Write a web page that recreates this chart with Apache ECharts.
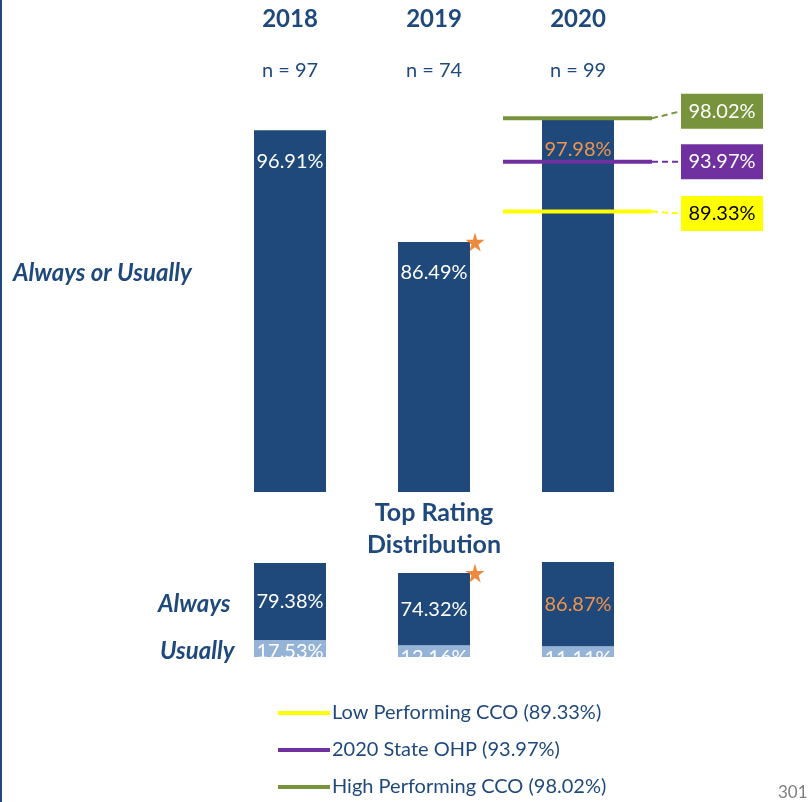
<!DOCTYPE html>
<html>
<head>
<meta charset="utf-8">
<script src="https://cdn.jsdelivr.net/npm/echarts@6/dist/echarts.min.js"></script>
<style>
  html, body { margin: 0; padding: 0; background: #fff; }
  #main { width: 811px; height: 802px; }
</style>
</head>
<body>
<div id="main"></div>
<script>
var years = ['2018', '2019', '2020'];
var sampleSizes = ['n = 97', 'n = 74', 'n = 99'];
var alwaysOrUsually = [96.91, 86.49, 97.98];
var always = [79.38, 74.32, 86.87];
var usually = [17.53, 12.16, 11.11];
var significant = [false, true, false];
var highlighted = [false, false, true];

var benchmarkNames = ['Low Performing CCO (89.33%)', '2020 State OHP (93.97%)', 'High Performing CCO (98.02%)'];
var benchmarkValues = [89.33, 93.97, 98.02];

var NAVY = '#1F497D';
var BAR = '#1F497A';
var LIGHT = '#95B3D7';
var ORANGE = '#F0944D';
var STAR = '#EA6D0C';
var FONT = 'Lato';
var benchColors = ['#FFFF00', '#7030A0', '#77933C'];
var benchText = ['#000000', '#ffffff', '#ffffff'];
var benchShift = [2, 0, -7];

var starPath = 'path://M50,0 L61,35 L98,35 L68,57 L79,91 L50,70 L21,91 L32,57 L2,35 L39,35 Z';

var chart = echarts.init(document.getElementById('main'), null, { renderer: 'canvas' });

function barLabelColor(i) {
  return highlighted[i] ? ORANGE : '#ffffff';
}

// reference lines across the 2020 band, with a boxed value on the right
function benchmarkSeries(k) {
  return {
    type: 'custom',
    name: benchmarkNames[k],
    xAxisIndex: 0,
    yAxisIndex: 0,
    z: 5,
    color: benchColors[k],
    itemStyle: { color: benchColors[k] },
    data: [[years.length - 1, benchmarkValues[k]]],
    renderItem: function (params, api) {
      var pt = api.coord([api.value(0), api.value(1)]);
      var band = api.size([1, 0])[0];
      var x0 = pt[0] - band / 2 - 3;
      var x1 = pt[0] + band / 2 + 2;
      var by = pt[1] + benchShift[k];
      return {
        type: 'group',
        children: [
          { type: 'line', shape: { x1: x0, y1: pt[1], x2: x1, y2: pt[1] },
            style: { stroke: benchColors[k], lineWidth: 4 } },
          { type: 'line', shape: { x1: x1, y1: pt[1], x2: x1 + 29, y2: by },
            style: { stroke: benchColors[k], lineWidth: 2, lineDash: [6, 4] } },
          { type: 'rect', shape: { x: x1 + 29, y: by - 17.5, width: 82, height: 35 },
            style: { fill: benchColors[k] } },
          { type: 'text', style: { text: api.value(1).toFixed(2) + '%', x: x1 + 29 + 41, y: by,
            align: 'center', verticalAlign: 'middle', fill: benchText[k],
            fontSize: 20, fontFamily: FONT } }
        ]
      };
    }
  };
}

var topBars = alwaysOrUsually.map(function (v, i) {
  return { value: v, label: { color: barLabelColor(i) } };
});
var alwaysBars = always.map(function (v, i) {
  return { value: v, label: { color: barLabelColor(i) } };
});
var stackTotals = always.map(function (v, i) { return +(v + usually[i]).toFixed(2); });

var topStars = [], bottomStars = [];
significant.forEach(function (s, i) {
  if (s) {
    topStars.push([i, alwaysOrUsually[i]]);
    bottomStars.push([i, stackTotals[i]]);
  }
});

var option = {
  animation: false,
  textStyle: { fontFamily: FONT },
  grid: [
    { left: 218, width: 432, top: 97, height: 395 },
    { left: 218, width: 432, top: 560, height: 97 }
  ],
  xAxis: [
    { gridIndex: 0, type: 'category', data: years, position: 'top',
      axisLine: { show: false }, axisTick: { show: false },
      axisLabel: { margin: 16, color: NAVY, fontSize: 20, fontFamily: FONT,
        formatter: function (v, i) { return sampleSizes[i]; } } },
    { gridIndex: 1, type: 'category', data: years, show: false },
    { gridIndex: 0, type: 'category', data: years, position: 'top', offset: 50,
      axisLine: { show: false }, axisTick: { show: false },
      axisLabel: { margin: 16, color: NAVY, fontSize: 24, fontWeight: 'bold', fontFamily: FONT } }
  ],
  yAxis: [
    { gridIndex: 0, type: 'value', min: 63.2, max: 100, show: false },
    { gridIndex: 1, type: 'value', min: 0, max: 100, show: false }
  ],
  legend: {
    orient: 'vertical',
    left: 278,
    top: 703,
    height: 120,
    padding: 0,
    icon: 'rect',
    itemWidth: 52,
    itemHeight: 4,
    itemGap: 17,
    data: benchmarkNames,
    selectedMode: false,
    textStyle: { color: NAVY, fontSize: 20, fontFamily: FONT, lineHeight: 20, padding: [0, 0, 0, -3] }
  },
  series: [
    { type: 'bar', name: 'Always or Usually', xAxisIndex: 0, yAxisIndex: 0,
      barWidth: 72, itemStyle: { color: BAR }, data: topBars,
      label: { show: true, position: 'insideTop', distance: 21, fontSize: 20, fontFamily: FONT,
        formatter: function (p) { return p.value.toFixed(2) + '%'; } } },
    { type: 'bar', name: 'Usually', stack: 'dist', xAxisIndex: 1, yAxisIndex: 1,
      barWidth: 72, itemStyle: { color: LIGHT }, data: usually,
      label: { show: true, position: 'insideTop', distance: 2, color: '#ffffff', fontSize: 20, fontFamily: FONT,
        formatter: function (p) { return p.value.toFixed(2) + '%'; } } },
    { type: 'bar', name: 'Always', stack: 'dist', xAxisIndex: 1, yAxisIndex: 1,
      barWidth: 72, itemStyle: { color: BAR }, data: alwaysBars,
      label: { show: true, position: 'inside', fontSize: 20, fontFamily: FONT,
        formatter: function (p) { return p.value.toFixed(2) + '%'; } } },
    benchmarkSeries(0),
    benchmarkSeries(1),
    benchmarkSeries(2),
    { type: 'scatter', name: 'sig-top', xAxisIndex: 0, yAxisIndex: 0, z: 6,
      symbol: starPath, symbolSize: 19, symbolOffset: [41, 0],
      itemStyle: { color: STAR }, data: topStars },
    { type: 'scatter', name: 'sig-bottom', xAxisIndex: 1, yAxisIndex: 1, z: 6,
      symbol: starPath, symbolSize: 19, symbolOffset: [41, 0],
      itemStyle: { color: STAR }, data: bottomStars }
  ],
  graphic: [
    { type: 'rect', left: 0, top: 0, shape: { width: 2, height: 802 }, style: { fill: NAVY } },
    { type: 'rect', z: 100, left: 240, top: 657.5, shape: { width: 420, height: 24 }, style: { fill: '#ffffff' } },
    { type: 'text', left: 13, top: 261, style: { text: 'Always or Usually', fill: NAVY,
      font: 'italic bold 24px Lato' } },
    { type: 'text', x: 434, y: 497, z: 101, style: { text: 'Top Rating\nDistribution', fill: NAVY,
      font: 'bold 25px Lato', align: 'center', lineHeight: 32 } },
    { type: 'text', left: 158, top: 592, style: { text: 'Always', fill: NAVY, font: 'italic bold 24px Lato' } },
    { type: 'text', left: 160, top: 639, style: { text: 'Usually', fill: NAVY, font: 'italic bold 24px Lato' } },
    { type: 'text', left: 778, top: 784, style: { text: '301', fill: '#7F7F7F', font: '17px Lato' } }
  ]
};

chart.setOption(option);
</script>
</body>
</html>
